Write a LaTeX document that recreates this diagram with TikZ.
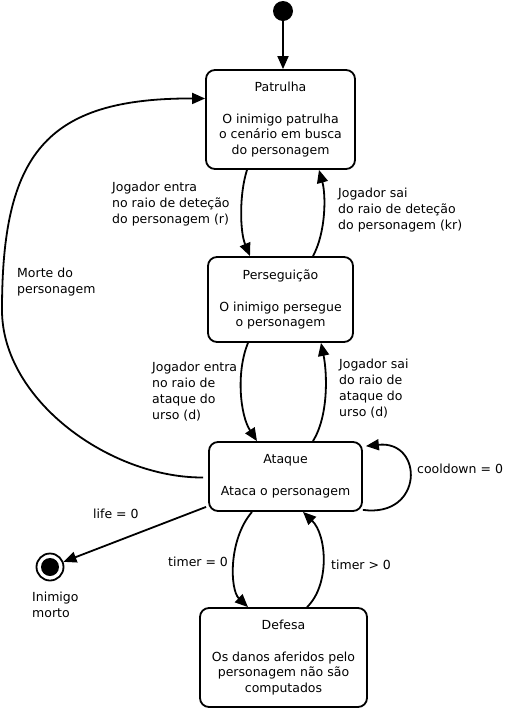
\documentclass[tikz,border=0pt]{standalone}
\usepackage{fontspec}
\setmainfont{DejaVu Sans}
\usetikzlibrary{arrows.meta}
\begin{document}
\begin{tikzpicture}[x=1pt,y=-1pt,
  every node/.style={font=\fontsize{12.5}{15.8}\selectfont},
  statebox/.style={draw, line width=1.8pt, rounded corners=9pt, align=center, inner sep=0pt},
  arr/.style={line width=1.8pt, -{Triangle[length=13pt,width=11pt]}},
  lbl/.style={align=left, anchor=base west, inner sep=0pt}]
\useasboundingbox[fill=white] (0,0) rectangle (504,710);

% states
\node[circle, fill=black, minimum size=20pt, inner sep=0pt] (init) at (283,11) {};
\node[statebox, minimum width=149pt, minimum height=99pt] (patrulha) at (280.5,119.5)
  {Patrulha\\[16pt]O inimigo patrulha\\o cenário em busca\\do personagem};
\node[statebox, minimum width=145pt, minimum height=85pt] (perseg) at (280.5,299.5)
  {Perseguição\\[16pt]O inimigo persegue\\o personagem};
\node[statebox, minimum width=153pt, minimum height=69pt] (ataque) at (285.5,476.5)
  {Ataque\\[16pt]Ataca o personagem};
\node[statebox, minimum width=167pt, minimum height=99pt] (defesa) at (283.5,657.5)
  {Defesa\\[16pt]Os danos aferidos pelo\\personagem não são\\computados};
\node[circle, draw, line width=1.8pt, minimum size=27pt, inner sep=0pt,
  path picture={\fill[black] (path picture bounding box.center) circle (9pt);}] (final) at (50,567) {};

% transitions
\draw[arr] (init.south) -- (init.south |- patrulha.north);
\draw[arr] ([xshift=-33.5pt]patrulha.south) .. controls (239,195) and (240,232) .. ([xshift=-30.5pt]perseg.north);
\draw[arr] ([xshift=32.5pt]perseg.north) .. controls (326,232) and (326,195) .. ([xshift=38.5pt]patrulha.south);
\draw[arr] ([xshift=-32.5pt]perseg.south) .. controls (236,372) and (240,415) .. ([xshift=-28.5pt]ataque.north);
\draw[arr] ([xshift=27.5pt]ataque.north) .. controls (329,415) and (327,372) .. ([xshift=40.5pt]perseg.south);
\draw[arr] ([yshift=2pt]ataque.south east) .. controls (424,518) and (424,440) .. ([xshift=3pt,yshift=-5pt]ataque.north east);
\draw[arr] ([xshift=-33.5pt]ataque.south) .. controls (228,540) and (230,590) .. ([xshift=-35.5pt]defesa.north);
\draw[arr] ([xshift=23.5pt]defesa.north) .. controls (330,585) and (327,535) .. ([xshift=17.5pt]ataque.south);
\draw[arr] ([xshift=-2pt,yshift=5pt]ataque.south west) -- (final);
\coordinate (mleft) at (2,310);
\draw[arr] ([xshift=-5pt,yshift=-1pt]ataque.west) .. controls (110,478) and (2,400) .. (mleft)
  .. controls (2,155) and (45,98) .. ([yshift=21pt]patrulha.west);

% labels (anchor at baseline of last line)
\node[lbl] (l1) at (112,223) {Jogador entra\\no raio de deteção\\do personagem (r)};
\node[lbl] (r1) at (338,229) {Jogador sai\\do raio de deteção\\do personagem (kr)};
\node[lbl] (l2) at (152,419) {Jogador entra\\no raio de\\ataque do\\urso (d)};
\node[lbl] (r2) at (339,416) {Jogador sai\\do raio de\\ataque do\\urso (d)};
\node[lbl] (morte) at (17,293) {Morte do\\personagem};
\node[lbl] (cool) at (417,473) {cooldown = 0};
\node[lbl] (life) at (93,518) {life = 0};
\node[lbl] (t0) at (168,566) {timer = 0};
\node[lbl] (tg) at (331,569) {timer > 0};
\node[lbl] (dead) at (32,617) {Inimigo\\morto};
\end{tikzpicture}
\end{document}
